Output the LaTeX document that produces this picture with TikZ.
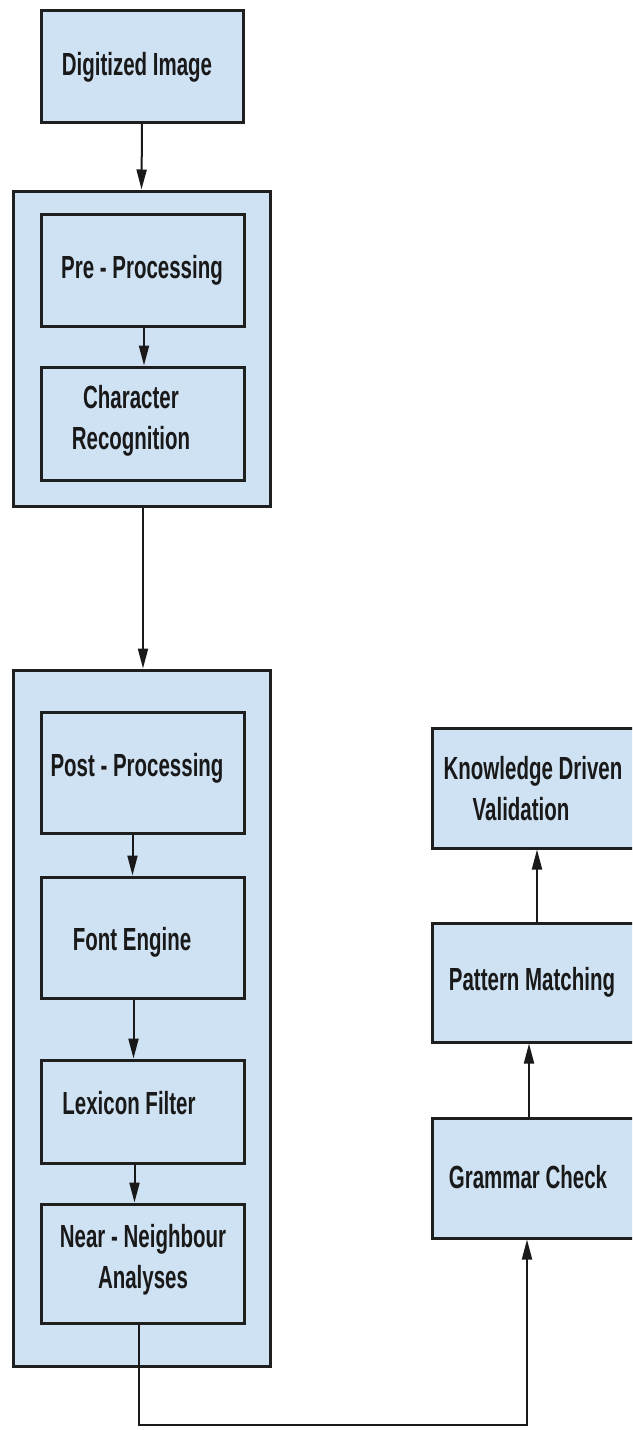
\documentclass[tikz,border=0pt]{standalone}
\usepackage{fontspec}
\setmainfont{Liberation Sans}[FakeStretch=0.64]
\usetikzlibrary{arrows.meta,calc}
\definecolor{boxfill}{HTML}{CFE2F3}
\definecolor{boxline}{HTML}{1F1F1F}
\begin{document}
\begin{tikzpicture}[x=1pt,y=-1pt,
  box/.style={draw=boxline,fill=boxfill,line width=3pt,rectangle,inner sep=0pt,minimum width=203pt},
  lbl/.style={font=\bfseries\fontsize{32}{41}\selectfont,align=center,inner sep=0pt,text=black!90},
  arr/.style={draw=black!90,line width=2pt,-{Triangle[length=20pt,width=10pt]}}]
\useasboundingbox (0,0) rectangle (632,1430);
\clip (0,0) rectangle (632,1430);
\fill[white] (0,0) rectangle (632,1430);
% outer groups
\node[box,minimum width=257pt,minimum height=315pt] (outer1) at (141.5,348.5) {};
\node[box,minimum width=257pt,minimum height=696pt] (outer2) at (141.5,1018) {};
% boxes
\node[box,minimum width=202pt,minimum height=112pt] (dig) at (142,66) {};
\node[box,minimum height=112pt] (pre) at (142.5,270) {};
\node[box,minimum height=113pt] (chr) at (142.5,423.5) {};
\node[box,minimum height=121pt] (post) at (142.5,772.5) {};
\node[box,minimum height=121pt] (font) at (142.5,937.5) {};
\node[box,minimum height=103pt] (lex) at (142.5,1111.5) {};
\node[box,minimum height=119pt] (near) at (142.5,1263.5) {};
\node[box,minimum height=120pt] (know) at (533.5,788) {};
\node[box,minimum height=119pt] (pat) at (533.5,982.5) {};
\node[box,minimum height=120pt] (gram) at (533.5,1178) {};
% labels
\node[lbl] (tdig) at (137,67) {Digitized Image};
\node[lbl] (tpre) at (142,270) {Pre - Processing};
\node[lbl] (tchr) at (131,421) {Character\\Recognition};
\node[lbl] (tpost) at (137,768) {Post - Processing};
\node[lbl] (tfont) at (132,942) {Font Engine};
\node[lbl] (tlex) at (129,1103) {Lexicon Filter};
\node[lbl] (tnear) at (143,1260) {Near - Neighbour\\Analyses};
\node[lbl] (tknow) at (533,789) {Knowledge Driven\\Validation\hspace*{24pt}};
\node[lbl] (tpat) at (532,982) {Pattern Matching};
\node[lbl] (tgram) at (528,1177) {Grammar Check};
% arrows
\draw[arr] (dig.south) -- (outer1.north);
\draw[arr] ([xshift=1.5pt]pre.south) -- ([xshift=1.5pt]chr.north);
\draw[arr] ([xshift=1.5pt]outer1.south) -- ([xshift=1.5pt]outer2.north);
\draw[arr] ([xshift=-10pt]post.south) -- ([xshift=-10pt]font.north);
\draw[arr] ([xshift=-9pt]font.south) -- ([xshift=-9pt]lex.north);
\draw[arr] ([xshift=-8pt]lex.south) -- ([xshift=-8pt]near.north);
\draw[arr] ([xshift=-4.5pt]gram.north) -- ([xshift=-4.5pt]pat.south);
\draw[arr] ([xshift=3.5pt]pat.north) -- ([xshift=3.5pt]know.south);
\coordinate (c1) at (139,1425);
\coordinate (c2) at (527,1425);
\draw[arr] ([xshift=-3.5pt]near.south) -- (c1) -- (c2) -- ([xshift=-6.5pt]gram.south);
\end{tikzpicture}
\end{document}
